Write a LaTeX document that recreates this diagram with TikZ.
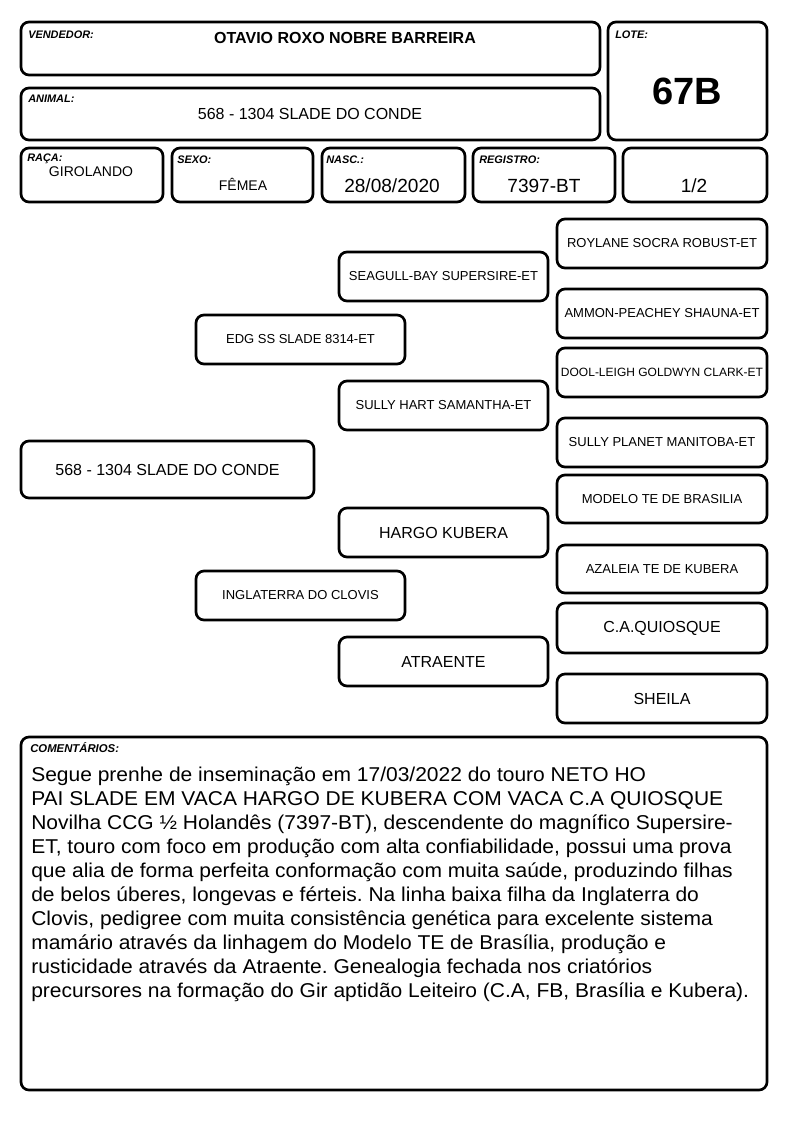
\documentclass[tikz,border=0pt]{standalone}
\usepackage{fontspec}
\setmainfont{Liberation Sans}
\newfontfamily\comfont[FakeStretch=1.05]{Liberation Sans}
\usepackage{tikz}
\newcommand{\pedsm}{\fontsize{9.75}{11}\selectfont}
\newcommand{\pedxs}{\fontsize{9}{10}\selectfont}
\newcommand{\pedlg}{\fontsize{12}{14}\selectfont}
\newcommand{\rowval}{\fontsize{10.5}{12}\selectfont}
\newcommand{\rowbig}{\fontsize{14.3}{16}\selectfont}
\tikzset{
  cbox/.style={draw,line width=2pt,rounded corners=6pt},
  lbl/.style={anchor=west,inner sep=0pt,font=\fontsize{8.2}{9}\selectfont\bfseries\itshape}
}

\begin{document}
\begin{tikzpicture}[x=0.75pt,y=-0.75pt]
\useasboundingbox (0,0) rectangle (794,1123);
% cabecalho
\draw[cbox] (21,22) rectangle (600,75);
\node[lbl] (vendlbl) at (28,35) {VENDEDOR:};
\node[font=\pedlg\bfseries] (vend) at (345,38) {OTAVIO ROXO NOBRE BARREIRA};
\draw[cbox] (21,88) rectangle (600,140);
\node[lbl] (animlbl) at (28,99) {ANIMAL:};
\node[font=\pedlg] (anim) at (310,114) {568 - 1304 SLADE DO CONDE};
\draw[cbox] (608,22) rectangle (767,140);
\node[lbl] (lotelbl) at (615,35) {LOTE:};
\node[font=\fontsize{28.5}{30}\selectfont\bfseries] (lote) at (687,91) {67B};
% linha de dados
\draw[cbox] (21,148) rectangle (163,202);
\node[lbl] (racalbl) at (27,159) {RAÇA:};
\node[font=\rowval] (raca) at (91,172) {GIROLANDO};
\draw[cbox] (172,148) rectangle (313,202);
\node[lbl] (sexolbl) at (177,160) {SEXO:};
\node[font=\rowval] (sexo) at (243,184) {FÊMEA};
\draw[cbox] (322,148) rectangle (465,202);
\node[lbl] (nasclbl) at (326,160) {NASC.:};
\node[font=\rowbig] (nasc) at (392,186) {28/08/2020};
\draw[cbox] (473,148) rectangle (615,202);
\node[lbl] (reglbl) at (479,160) {REGISTRO:};
\node[font=\rowbig] (reg) at (544,186) {7397-BT};
\draw[cbox] (623,148) rectangle (767,202);
\node[font=\rowbig] (parte) at (694,186) {1/2};
% genealogia
\foreach \nm/\xa/\ya/\xb/\yb/\fs/\txt in {
  animal/21/441/314/498/\pedlg/568 - 1304 SLADE DO CONDE,
  pai/196/315/405/364/\pedsm/EDG SS SLADE 8314-ET,
  mae/196/571/405/620/\pedsm/INGLATERRA DO CLOVIS,
  avop/339/252/548/301/\pedsm/SEAGULL-BAY SUPERSIRE-ET,
  avap/339/381/548/430/\pedsm/SULLY HART SAMANTHA-ET,
  avom/339/508/548/557/\pedlg/HARGO KUBERA,
  avam/339/637/548/686/\pedlg/ATRAENTE,
  bisa/557/219/767/268/\pedsm/ROYLANE SOCRA ROBUST-ET,
  bisb/557/289/767/338/\pedsm/AMMON-PEACHEY SHAUNA-ET,
  bisc/557/348/767/397/\pedxs/DOOL-LEIGH GOLDWYN CLARK-ET,
  bisd/557/418/767/467/\pedsm/SULLY PLANET MANITOBA-ET,
  bise/557/475/767/523/\pedsm/MODELO TE DE BRASILIA,
  bisf/557/545/767/593/\pedsm/AZALEIA TE DE KUBERA,
  bisg/557/603/767/653/\pedlg/C.A.QUIOSQUE,
  bish/557/674/767/723/\pedlg/SHEILA}{
  \draw[cbox] (\xa,\ya) rectangle (\xb,\yb);
  \node[font=\fs] (\nm) at ({(\xa+\xb)/2},{(\ya+\yb)/2}) {\txt};}
% comentarios
\draw[cbox] (21,737) rectangle (767,1090);
\node[lbl,font=\fontsize{8.5}{9}\selectfont\bfseries\itshape] (comlbl) at (30,748) {COMENTÁRIOS:};
\node[anchor=north west,inner sep=0pt,align=left,font=\comfont\fontsize{15}{18}\selectfont\frenchspacing] (coment) at (31,767) {Segue prenhe de inseminação em 17/03/2022 do touro NETO HO\\
PAI SLADE EM VACA HARGO DE KUBERA COM VACA C.A QUIOSQUE\\
Novilha CCG ½ Holandês (7397-BT), descendente do magnífico Supersire-\\
ET, touro com foco em produção com alta confiabilidade, possui uma prova\\
que alia de forma perfeita conformação com muita saúde, produzindo filhas\\
de belos úberes, longevas e férteis. Na linha baixa filha da Inglaterra do\\
Clovis, pedigree com muita consistência genética para excelente sistema\\
mamário através da linhagem do Modelo TE de Brasília, produção e\\
rusticidade através da Atraente. Genealogia fechada nos criatórios\\
precursores na formação do Gir aptidão Leiteiro (C.A, FB, Brasília e Kubera).};
\end{tikzpicture}
\end{document}
